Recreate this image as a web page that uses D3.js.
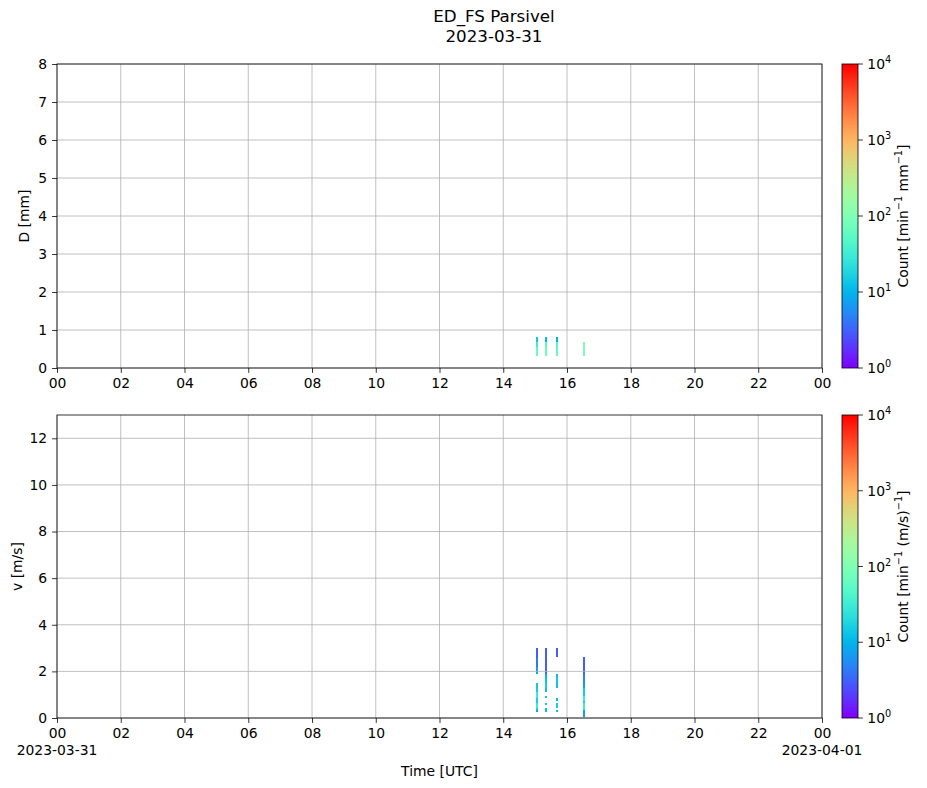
<!DOCTYPE html>
<html>
<head>
<meta charset="utf-8">
<script src="https://cdn.jsdelivr.net/npm/d3@7"></script>
<style>
  body { margin: 0; background: #fff; }
  svg { font-family: "DejaVu Sans", sans-serif; }
</style>
</head>
<body>
<svg id="chart" width="927" height="788"></svg>
<script>
// Parsivel bin centres, used as cell edges (flat shading)
const dEdges = [0.062, 0.187, 0.312, 0.437, 0.562, 0.687, 0.812, 0.937, 1.062];
const vEdges = [0.05, 0.15, 0.25, 0.35, 0.45, 0.55, 0.65, 0.75, 0.85, 0.95,
                1.1, 1.3, 1.5, 1.7, 1.9, 2.2, 2.6, 3.0, 3.4];

// time columns with precipitation (UTC, 2023-03-31)
const timeStarts = ["15:01", "15:19", "15:40", "16:31"];
const timeEnds   = ["15:05", "15:22", "15:43", "16:34"];

// counts per cell, index i -> [edges[i], edges[i+1]]
const dCounts = [
  [0, 0, 70, 60, 30, 14],
  [0, 0, 70, 70, 50, 10],
  [0, 0, 60, 60, 50, 9],
  [0, 0, 100, 110, 90, 0]
];
const vCounts = [
  [0, 0, 8, 15, 30, 30, 15, 15, 30, 30, 15, 14, 0, 0, 7, 4, 3],
  [0, 0, 12, 12, 0, 15, 0, 0, 12, 0, 12, 15, 12, 10, 3, 3, 3],
  [0, 0, 12, 0, 15, 15, 0, 12, 0, 0, 0, 12, 15, 12, 0, 0, 3],
  [6, 7, 7, 30, 30, 30, 15, 30, 30, 15, 14, 7, 5, 5, 3, 3, 0]
];

const xTickHours = d3.range(0, 25, 2);
const dTicks = d3.range(0, 9, 1);
const vTicks = d3.range(0, 13, 2);
const cbTicks = [1, 10, 100, 1000, 10000];

const svg = d3.select("#chart");
const left = 57, right = 822, cbX0 = 842, cbX1 = 858;
const fs = 13.9, tickLen = 4.9, tickPad = 4.9;

const day0 = new Date(Date.UTC(2023, 2, 31));
const day1 = new Date(Date.UTC(2023, 3, 1));
const parseT = s => {
  const [h, m] = s.split(":").map(Number);
  return new Date(Date.UTC(2023, 2, 31, h, m));
};

const x = d3.scaleUtc().domain([day0, day1]).range([left, right]);

// matplotlib "rainbow" colormap
function rainbow(t) {
  const c = v => Math.round(255 * Math.max(0, Math.min(1, v)));
  const r = Math.abs(2 * t - 0.5), g = Math.sin(Math.PI * t), b = Math.cos(Math.PI * t / 2);
  return `rgb(${c(r)},${c(g)},${c(b)})`;
}
const logNorm = d3.scaleLog().domain([1, 10000]).range([0, 1]).clamp(true);
const color = v => rainbow(logNorm(v));

// gradient for colorbars
const grad = svg.append("defs").append("linearGradient")
  .attr("id", "cbgrad").attr("x1", 0).attr("y1", 1).attr("x2", 0).attr("y2", 0);
d3.range(0, 1.0001, 0.02).forEach(t => {
  grad.append("stop").attr("offset", t).attr("stop-color", rainbow(t));
});

// title
svg.append("text").attr("x", 494).attr("y", 22).attr("text-anchor", "middle")
  .attr("font-size", 16.7).text("ED_FS Parsivel");
svg.append("text").attr("x", 494).attr("y", 42).attr("text-anchor", "middle")
  .attr("font-size", 16.7).text("2023-03-31");

const panels = [
  { top: 64, bottom: 368, domain: [0, 8], ticks: dTicks, edges: dEdges, counts: dCounts,
    ylabel: "D [mm]", ylabelX: 29, unit: [["Count [min"], ["−1", true], [" mm"], ["−1", true], ["]"]] },
  { top: 415, bottom: 718, domain: [0, 13], ticks: vTicks, edges: vEdges, counts: vCounts,
    ylabel: "v [m/s]", ylabelX: 22, unit: [["Count [min"], ["−1", true], [" (m/s)"], ["−1", true], ["]"]] }
];

// text with superscripts: each normal part after a superscript drops back down
function supText(sel, parts, size) {
  let raised = false;
  parts.forEach(([s, sup]) => {
    const t = sel.append("tspan").text(s);
    if (sup) {
      t.attr("font-size", size * 0.7).attr("dy", -size * 0.4);
      raised = true;
    } else {
      t.attr("font-size", size).attr("dy", raised ? size * 0.4 : 0);
      raised = false;
    }
  });
}

panels.forEach((p, pi) => {
  const y = d3.scaleLinear().domain(p.domain).range([p.bottom, p.top]);
  const g = svg.append("g");

  // mesh cells
  p.counts.forEach((col, ci) => {
    const x0 = x(parseT(timeStarts[ci])), x1 = x(parseT(timeEnds[ci]));
    col.forEach((v, i) => {
      if (!v) return;
      const ya = y(p.edges[i + 1]), yb = y(p.edges[i]);
      g.append("rect")
        .attr("x", x0).attr("width", x1 - x0)
        .attr("y", ya).attr("height", yb - ya)
        .attr("fill", color(v)).attr("shape-rendering", "crispEdges");
    });
  });

  // grid
  const grid = g.append("g").attr("stroke", "#b0b0b0").attr("stroke-width", 0.8);
  xTickHours.forEach(h => {
    const xx = x(d3.utcHour.offset(day0, h));
    grid.append("line").attr("x1", xx).attr("x2", xx).attr("y1", p.top).attr("y2", p.bottom);
  });
  p.ticks.forEach(t => {
    grid.append("line").attr("x1", left).attr("x2", right).attr("y1", y(t)).attr("y2", y(t));
  });

  // axes
  const xAxis = d3.axisBottom(x)
    .tickValues(xTickHours.map(h => d3.utcHour.offset(day0, h)))
    .tickFormat(d3.utcFormat("%H"))
    .tickSize(tickLen).tickPadding(tickPad);
  const gx = svg.append("g").attr("transform", `translate(0,${p.bottom})`).call(xAxis);
  const gy = svg.append("g").attr("transform", `translate(${left},0)`)
    .call(d3.axisLeft(y).tickValues(p.ticks).tickSize(tickLen).tickPadding(tickPad));
  [gx, gy].forEach(a => {
    a.select(".domain").remove();
    a.selectAll("line").attr("stroke", "#000").attr("stroke-width", 0.8);
    a.selectAll("text").attr("font-size", fs).attr("font-family", "DejaVu Sans").attr("fill", "#000");
  });

  // frame
  svg.append("rect").attr("x", left).attr("y", p.top)
    .attr("width", right - left).attr("height", p.bottom - p.top)
    .attr("fill", "none").attr("stroke", "#000").attr("stroke-width", 0.8);

  // y label
  svg.append("text").attr("transform", `translate(${p.ylabelX},${(p.top + p.bottom) / 2}) rotate(-90)`)
    .attr("text-anchor", "middle").attr("font-size", fs).text(p.ylabel);

  // colorbar
  svg.append("rect").attr("x", cbX0).attr("y", p.top)
    .attr("width", cbX1 - cbX0).attr("height", p.bottom - p.top)
    .attr("fill", "url(#cbgrad)").attr("stroke", "#000").attr("stroke-width", 0.8);
  const cy = d3.scaleLog().domain([1, 10000]).range([p.bottom, p.top]);
  cbTicks.forEach(t => {
    svg.append("line").attr("x1", cbX1).attr("x2", cbX1 + tickLen)
      .attr("y1", cy(t)).attr("y2", cy(t)).attr("stroke", "#000").attr("stroke-width", 0.8);
    const txt = svg.append("text").attr("x", cbX1 + tickLen + tickPad - 0.5).attr("y", cy(t) + 5)
      .attr("font-size", fs);
    txt.append("tspan").text("10");
    txt.append("tspan").attr("font-size", fs * 0.7).attr("dy", -6).text(Math.round(Math.log10(t)));
  });
  const cl = svg.append("text")
    .attr("transform", `translate(908,${(p.top + p.bottom) / 2}) rotate(-90)`)
    .attr("text-anchor", "middle").attr("font-size", fs);
  supText(cl, p.unit, fs);

  // date labels under the bottom axis
  if (pi === 1) {
    [[day0, "2023-03-31"], [day1, "2023-04-01"]].forEach(([d, s]) => {
      svg.append("text").attr("x", x(d)).attr("y", p.bottom + 36.5)
        .attr("text-anchor", "middle").attr("font-size", fs).text(s);
    });
    svg.append("text").attr("x", (left + right) / 2).attr("y", p.bottom + 58)
      .attr("text-anchor", "middle").attr("font-size", fs).text("Time [UTC]");
  }
});
</script>
</body>
</html>
